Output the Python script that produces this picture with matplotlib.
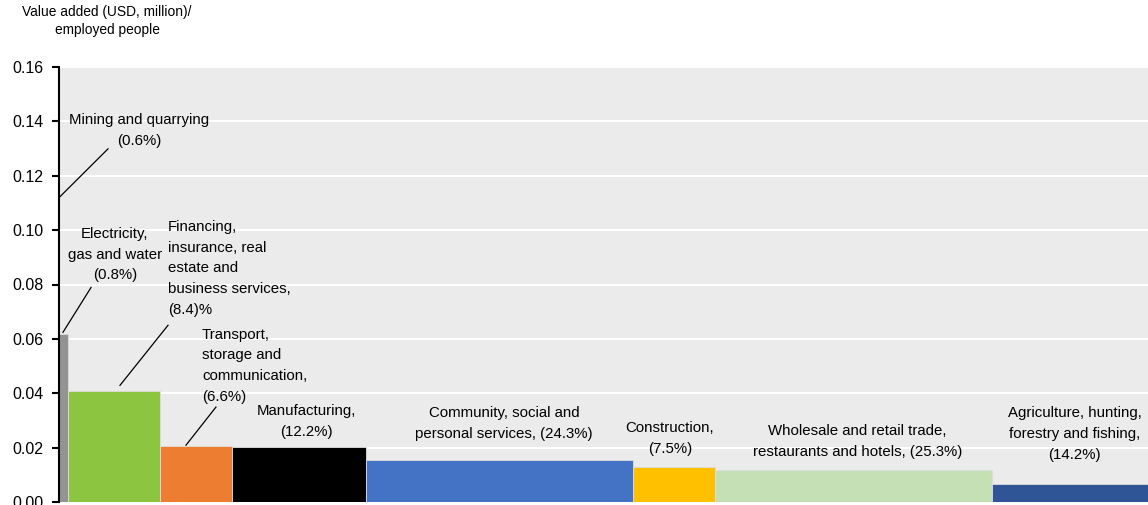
import numpy as np
import matplotlib.pyplot as plt

plt.rcParams['font.family'] = ['Liberation Sans', 'DejaVu Sans']

sectors = ['Mining and quarrying', 'Electricity, gas and water',
           'Financing, insurance, real estate and business services',
           'Transport, storage and communication', 'Manufacturing',
           'Community, social and personal services', 'Construction',
           'Wholesale and retail trade, restaurants and hotels',
           'Agriculture, hunting, forestry and fishing']
# share of employment (%), sets the bar widths
emp_share = [0.6, 0.8, 8.4, 6.6, 12.2, 24.3, 7.5, 25.3, 14.2]
# value added per employed person (USD million)
productivity = [0.112, 0.0617, 0.0407, 0.0206, 0.0202, 0.0154, 0.0128, 0.0117, 0.0066]
colors = ['#939393', '#939393', '#8CC641', '#ED7D31', '#000000',
          '#4472C4', '#FFC000', '#C5E0B4', '#2F5597']

left = np.concatenate([[0], np.cumsum(emp_share)[:-1]])

fig = plt.figure(figsize=(11.48, 5.05), dpi=100)
ax = fig.add_axes([59 / 1148, 3 / 505, 1089 / 1148, 435 / 505])
ax.set_facecolor('#EBEBEB')

ax.bar(left, productivity, width=emp_share, align='edge', color=colors,
       edgecolor='#DDDDDD', linewidth=0.6, zorder=2)

ax.set_xlim(emp_share[0], sum(emp_share))
ax.set_ylim(0, 0.16)
ax.set_yticks(np.arange(0, 0.161, 0.02))
ax.yaxis.set_major_formatter(plt.FormatStrFormatter('%.2f'))
ax.grid(axis='y', color='white', linewidth=1.5, zorder=1)
ax.set_axisbelow(True)
ax.set_xticks([])
for s in ['top', 'right', 'bottom']:
    ax.spines[s].set_visible(False)
ax.spines['left'].set_linewidth(1.5)
ax.tick_params(axis='y', length=5, width=1.5, labelsize=11.5, pad=6)

fig.text(107 / 1148, 1 - 21 / 505, 'Value added (USD, million)/\nemployed people',
         ha='center', va='center', fontsize=9.9, linespacing=1.4)

fs = 10.8
ls = 1.62
# labels: (text, x, y, alignment)
labels = [
    ('Mining and quarrying\n(0.6%)', 7.9, 0.1367, 'center'),
    ('Electricity,\ngas and water\n(0.8%)', 5.7, 0.0910, 'center'),
    ('Financing,\ninsurance, real\nestate and\nbusiness services,\n(8.4)%', 10.54, 0.0859, 'left'),
    ('Transport,\nstorage and\ncommunication,\n(6.6%)', 13.64, 0.0501, 'left'),
    ('Manufacturing,\n(12.2%)', 23.2, 0.0295, 'center'),
    ('Community, social and\npersonal services, (24.3%)', 41.2, 0.0290, 'center'),
    ('Construction,\n(7.5%)', 56.3, 0.0235, 'center'),
    ('Wholesale and retail trade,\nrestaurants and hotels, (25.3%)', 73.4, 0.0224, 'center'),
    ('Agriculture, hunting,\nforestry and fishing,\n(14.2%)', 93.2, 0.0250, 'center'),
]
for txt, x, y, ha in labels:
    ax.text(x, y, txt, ha=ha, va='center', multialignment=ha, fontsize=fs,
            linespacing=ls, zorder=4)

# leader lines from labels to the bars
leaders = [
    ((5.07, 0.1299), (0.69, 0.1123)),
    ((3.52, 0.0789), (0.96, 0.0624)),
    ((10.54, 0.0650), (6.16, 0.0429)),
    ((14.91, 0.0349), (12.18, 0.0209)),
]
for (x0, y0), (x1, y1) in leaders:
    ax.plot([x0, x1], [y0, y1], color='black', linewidth=0.9, zorder=4,
            clip_on=False)

fig.savefig('out.png', dpi=100)
